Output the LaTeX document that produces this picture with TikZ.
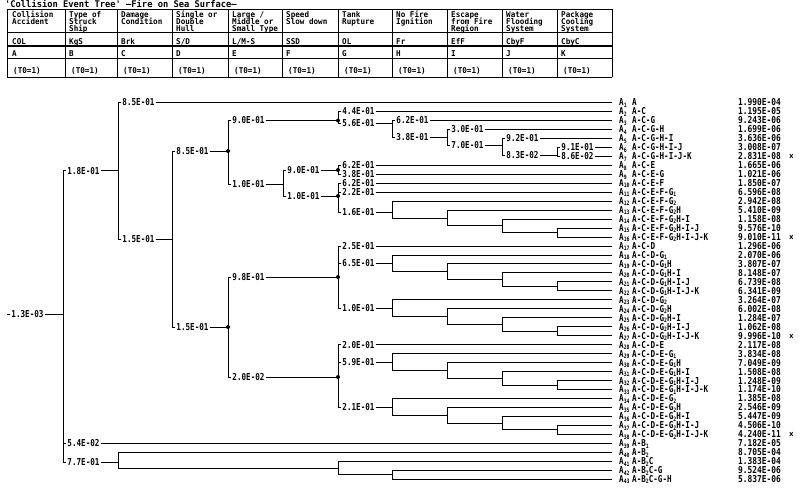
\documentclass[tikz,border=0pt]{standalone}
\usepackage{fontspec}
\newfontfamily\tf{DejaVu Sans Mono Bold}[FakeStretch=0.8]
\newfontfamily\vf{DejaVu Sans Mono Bold}[FakeStretch=0.83]
\newfontfamily\hf{DejaVu Sans Mono Bold}[FakeStretch=0.95]
\newcommand\lowx[1]{\raisebox{-1.3pt}{\fontsize{6}{6}\selectfont #1}}
\newcommand\ry[1]{\fpeval{102.5+(#1-1)*8.97}}
\newcounter{lc}
\tikzset{
  ln/.style={line width=0.95pt,line cap=rect},
  tl/.style={line width=0.7pt},
  lbl/.style={font={\tf\fontsize{9.5}{9.5}\selectfont},anchor=west,
    inner xsep=1pt,inner ysep=0pt,text height=6.9pt,text depth=0pt},
  rt/.style={font={\tf\fontsize{9.5}{9.5}\selectfont},anchor=west,
    inner sep=0pt,text height=6.9pt,text depth=0pt},
  vt/.style={font={\vf\fontsize{9.5}{9.5}\selectfont},anchor=west,
    inner sep=0pt,text height=6.9pt,text depth=0pt},
  hd/.style={font={\hf\fontsize{8}{8}\selectfont},anchor=west,
    inner sep=0pt,text height=5.8pt,text depth=0pt},
  jdot/.style={fill=black},
}
% labelled branch: x, y, text, x of next column
\newcommand\brl[4]{%
  \stepcounter{lc}%
  \draw[ln] (#1,#2) -- ++(3,0) node[lbl] (L\arabic{lc}) {#3};
  \draw[ln] (L\arabic{lc}.east) -- (#4,#2);
}
% unlabelled chain H-I-J-K starting at row #1
\newcommand\chain[1]{%
  \pgfmathsetmacro\qa{102.5+(#1-1)*8.97}%
  \pgfmathsetmacro\qb{\qa+8.97}%
  \pgfmathsetmacro\qc{\qa+2*8.97}%
  \pgfmathsetmacro\qd{\qa+3*8.97}%
  \pgfmathsetmacro\qe{\qa+4*8.97}%
  \pgfmathsetmacro\qk{(\qd+\qe)/2}%
  \pgfmathsetmacro\qj{(\qc+\qk)/2}%
  \pgfmathsetmacro\qi{(\qb+\qj)/2}%
  \draw[ln] (612,\qa) -- (392,\qa) -- (392,\qi) -- (447,\qi);
  \draw[ln] (612,\qb) -- (447,\qb) -- (447,\qj) -- (502,\qj);
  \draw[ln] (612,\qc) -- (502,\qc) -- (502,\qk) -- (557,\qk);
  \draw[ln] (612,\qd) -- (557,\qd) -- (557,\qe) -- (612,\qe);
}
\begin{document}
\begin{tikzpicture}[x=1pt,y=-1pt]
\fill[white] (0,0) rectangle (800,489);
\useasboundingbox (0,0) rectangle (800,489);

% ---------- title and table ----------
\node[hd,font={\hf\fontsize{9.2}{9.2}\selectfont},text height=6.4pt] (title) at (5,4.3)
  {'Collision Event Tree' —Fire on Sea Surface—};
\foreach \y in {9.5,32.5,58.5,77} \draw[tl] (7,\y) -- (612,\y);
\draw[tl,line width=1.3pt] (7,46) -- (612,46);
\foreach \x in {7,65,117,172,228,282,338,392,447,502,557,612}
  \draw[tl] (\x,9.5) -- (\x,77);

\foreach \x/\t [count=\k] in {12/Collision,69/Type of,121/Damage,176/Single or,
   232/{Large  /},286/Speed,342/Tank,396/No Fire,451/Escape,506/Water,561/Package}
  \node[hd] (ha\k) at (\x,14.4) {\t};
\foreach \x/\t [count=\k] in {12/Accident,69/Struck,121/Condition,176/Double,
   232/Middle or,286/Slow down,342/Rupture,396/Ignition,451/from Fire,506/Flooding,561/Cooling}
  \node[hd] (hb\k) at (\x,21.3) {\t};
\foreach \x/\t [count=\k] in {69/Ship,176/Hull,232/Small Type,451/Region,506/System,561/System}
  \node[hd] (hc\k) at (\x,28.2) {\t};
\foreach \x/\t [count=\k] in {12/COL,69/KgS,121/Brk,176/{S/D},232/{L/M-S},286/SSD,
   342/OL,396/Fr,451/EfF,506/CbyF,561/CbyC}
  \node[hd] (hd\k) at (\x,41.8) {\t};
\foreach \x/\t [count=\k] in {12/A,69/B,121/C,176/D,232/E,286/F,342/G,396/H,451/I,506/J,561/K}
  \node[hd] (he\k) at (\x,53.3) {\t};
\foreach \x [count=\k] in {13,71,123,178,234,288,344,398,453,508,563}
  \node[hd] (hf\k) at (\x,71) {(T0=1)};

% ---------- tree ----------
\brl{7}{314}{1.3E-03}{63}
% B
\draw[ln] (63,170.7) -- (63,462);
\brl{63}{170.7}{1.8E-01}{118}
\brl{63}{\ry{39}}{5.4E-02}{612}
\brl{63}{462}{7.7E-01}{118}
% C
\draw[ln] (118,\ry{1}) -- (118,239);
\brl{118}{\ry{1}}{8.5E-01}{612}
\brl{118}{239}{1.5E-01}{172}
% D
\draw[ln] (172,151) -- (172,327);
\brl{172}{151}{8.5E-01}{228}
\brl{172}{327}{1.5E-01}{228}
% E upper
\draw[ln] (228,120.5) -- (228,184);
\brl{228}{120.5}{9.0E-01}{338}
\brl{228}{184}{1.0E-01}{283}
% G..K upper chain
\draw[ln] (338,\ry{2}) -- (338,123.5);
\brl{338}{\ry{2}}{4.4E-01}{612}
\brl{338}{123.5}{5.6E-01}{392}
\draw[ln] (392,\ry{3}) -- (392,137);
\brl{392}{\ry{3}}{6.2E-01}{612}
\brl{392}{137}{3.8E-01}{447}
\draw[ln] (447,\ry{4}) -- (447,145.5);
\brl{447}{\ry{4}}{3.0E-01}{612}
\brl{447}{145.5}{7.0E-01}{502}
\draw[ln] (502,\ry{5}) -- (502,155);
\brl{502}{\ry{5}}{9.2E-01}{612}
\brl{502}{155}{8.3E-02}{557}
\draw[ln] (557,\ry{6}) -- (557,\ry{7});
\brl{557}{\ry{6}}{9.1E-01}{612}
\brl{557}{\ry{7}}{8.6E-02}{612}
% F
\draw[ln] (283,170) -- (283,196);
\brl{283}{170}{9.0E-01}{338}
\brl{283}{196}{1.0E-01}{338}
\draw[ln] (338,\ry{8}) -- (338,\ry{9});
\brl{338}{\ry{8}}{6.2E-01}{612}
\brl{338}{\ry{9}}{3.8E-01}{612}
\draw[ln] (338,\ry{10}) -- (338,212);
\brl{338}{\ry{10}}{6.2E-01}{612}
\brl{338}{\ry{11}}{2.2E-01}{612}
\brl{338}{212}{1.6E-01}{392}
\chain{12}
% E lower
\draw[ln] (228,277) -- (228,377);
\brl{228}{277}{9.8E-01}{338}
\brl{228}{377}{2.0E-02}{338}
\draw[ln] (338,\ry{17}) -- (338,308.5);
\brl{338}{\ry{17}}{2.5E-01}{612}
\brl{338}{263.4}{6.5E-01}{392}
\brl{338}{308.5}{1.0E-01}{392}
\chain{18}
\chain{23}
\draw[ln] (338,\ry{28}) -- (338,407);
\brl{338}{\ry{28}}{2.0E-01}{612}
\brl{338}{362.3}{5.9E-01}{392}
\brl{338}{407}{2.1E-01}{392}
\chain{29}
\chain{34}
% B2 branch
\pgfmathsetmacro\qg{(\ry{42}+\ry{43})/2}
\pgfmathsetmacro\qh{(\ry{41}+\qg)/2}
\draw[ln] (612,\ry{40}) -- (118,\ry{40}) -- (118,\qh) -- (338,\qh);
\draw[ln] (612,\ry{41}) -- (338,\ry{41}) -- (338,\qg) -- (392,\qg);
\draw[ln] (612,\ry{42}) -- (392,\ry{42}) -- (392,\ry{43}) -- (612,\ry{43});
% junction dots
\foreach \x/\y in {228/151,228/327,338/120.5,338/170,338/196,338/277,338/377}
  \fill[jdot] (\x,\y) circle[radius=2pt];

% ---------- outcome columns ----------
\foreach \i/\s/\v in {
1/A/1.990E-04, 2/A-C/1.195E-05, 3/A-C-G/9.243E-06, 4/A-C-G-H/1.699E-06,
5/A-C-G-H-I/3.636E-06, 6/A-C-G-H-I-J/3.008E-07, 7/A-C-G-H-I-J-K/2.831E-08,
8/A-C-E/1.665E-06, 9/A-C-E-G/1.021E-06, 10/A-C-E-F/1.850E-07,
11/A-C-E-F-G\lowx{1}/6.596E-08, 12/A-C-E-F-G\lowx{2}/2.942E-08,
13/A-C-E-F-G\lowx{2}H/5.410E-09, 14/A-C-E-F-G\lowx{2}H-I/1.158E-08,
15/A-C-E-F-G\lowx{2}H-I-J/9.576E-10, 16/A-C-E-F-G\lowx{2}H-I-J-K/9.010E-11,
17/A-C-D/1.296E-06, 18/A-C-D-G\lowx{1}/2.070E-06, 19/A-C-D-G\lowx{1}H/3.807E-07,
20/A-C-D-G\lowx{1}H-I/8.148E-07, 21/A-C-D-G\lowx{1}H-I-J/6.739E-08,
22/A-C-D-G\lowx{1}H-I-J-K/6.341E-09, 23/A-C-D-G\lowx{2}/3.264E-07,
24/A-C-D-G\lowx{2}H/6.002E-08, 25/A-C-D-G\lowx{2}H-I/1.284E-07,
26/A-C-D-G\lowx{2}H-I-J/1.062E-08, 27/A-C-D-G\lowx{2}H-I-J-K/9.996E-10,
28/A-C-D-E/2.117E-08, 29/A-C-D-E-G\lowx{1}/3.834E-08, 30/A-C-D-E-G\lowx{1}H/7.049E-09,
31/A-C-D-E-G\lowx{1}H-I/1.508E-08, 32/A-C-D-E-G\lowx{1}H-I-J/1.248E-09,
33/A-C-D-E-G\lowx{1}H-I-J-K/1.174E-10, 34/A-C-D-E-G\lowx{2}/1.385E-08,
35/A-C-D-E-G\lowx{2}H/2.546E-09, 36/A-C-D-E-G\lowx{2}H-I/5.447E-09,
37/A-C-D-E-G\lowx{2}H-I-J/4.506E-10, 38/A-C-D-E-G\lowx{2}H-I-J-K/4.240E-11,
39/A-B\lowx{1}/7.182E-05, 40/A-B\lowx{2}/8.705E-04, 41/A-B\lowx{2}C/1.383E-04,
42/A-B\lowx{2}C-G/9.524E-06, 43/A-B\lowx{2}C-G-H/5.837E-06}{
  \node[rt] (a\i) at (619,\ry{\i}) {A\lowx{\i}};
  \node[rt] (s\i) at (632,\ry{\i}) {\s};
  \node[vt] (v\i) at (738,\ry{\i}) {\v};
}
\foreach \i in {7,16,27,38}
  \node[rt] (x\i) at (789,\ry{\i}) {×};
\end{tikzpicture}
\end{document}
